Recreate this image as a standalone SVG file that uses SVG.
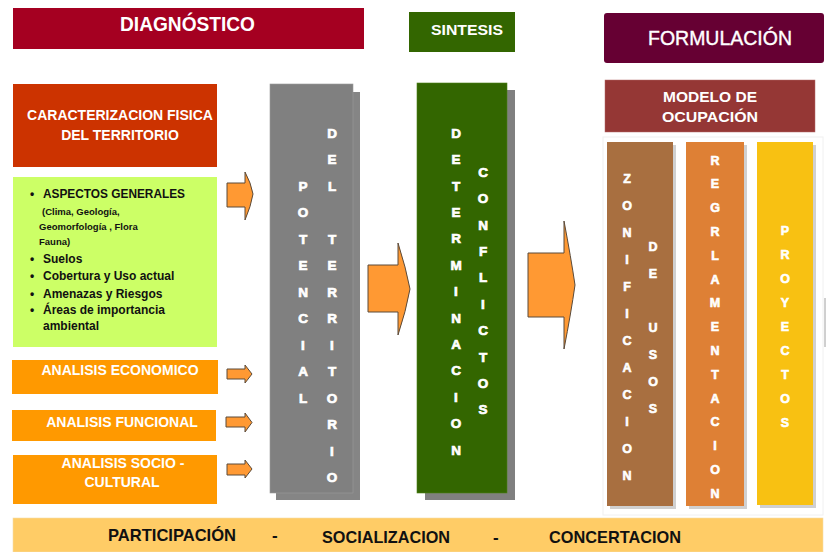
<svg xmlns="http://www.w3.org/2000/svg" width="827" height="552" viewBox="0 0 827 552">
<style>
text{font-family:"Liberation Sans",Arial,sans-serif}
.hw{fill:#fff;font-weight:bold}
.col{fill:#fff;font-weight:bold;font-size:13.5px;text-anchor:middle;stroke:#fff;stroke-width:0.7}
.colsm{fill:#fff;font-weight:bold;font-size:12.5px;text-anchor:middle;stroke:#fff;stroke-width:0.6}
.box{fill:#fff;font-weight:bold;font-size:14px;text-anchor:middle}
.lst{fill:#111;font-weight:bold;font-size:12px}
.lsm{fill:#111;font-weight:bold;font-size:9.5px}
.bot{fill:#111;font-weight:bold;font-size:17px}
.arr{fill:#FF9933;stroke:#5a4a3a;stroke-width:1;stroke-linejoin:round}
</style>

<g id="diagnostico">
<rect x="13" y="8" width="351" height="41" fill="#A50021"/>
<text class="hw" x="120" y="31" font-size="21" textLength="135" lengthAdjust="spacingAndGlyphs">DIAGNÓSTICO</text>
</g>

<g id="sintesis">
<rect x="409" y="12" width="106" height="40" fill="#336600"/>
<text class="hw" x="431" y="35" font-size="15" textLength="72" lengthAdjust="spacingAndGlyphs">SINTESIS</text>
</g>

<g id="formulacion">
<rect x="604" y="13" width="220" height="50" rx="3" fill="#660033"/>
<text x="648" y="45" font-size="21" fill="#fff" stroke="#fff" stroke-width="0.4" textLength="144" lengthAdjust="spacingAndGlyphs">FORMULACIÓN</text>
</g>

<g id="caracterizacion">
<rect x="13" y="84" width="204" height="83" fill="#CC3300"/>
<text class="box" x="120" y="120">CARACTERIZACION FISICA</text>
<text class="box" x="120" y="140">DEL TERRITORIO</text>
</g>

<g id="aspectos">
<rect x="13" y="177" width="204" height="170" fill="#CCFF66"/>
<text class="lst" x="30" y="198">•</text>
<text class="lst" x="43" y="198" textLength="142" lengthAdjust="spacingAndGlyphs">ASPECTOS GENERALES</text>
<text class="lsm" x="42" y="215">(Clima, Geología,</text>
<text class="lsm" x="39" y="230">Geomorfología , Flora</text>
<text class="lsm" x="39" y="245">Fauna)</text>
<text class="lst" x="30" y="263">•</text>
<text class="lst" x="43" y="263">Suelos</text>
<text class="lst" x="30" y="280">•</text>
<text class="lst" x="43" y="280">Cobertura y Uso actual</text>
<text class="lst" x="30" y="298">•</text>
<text class="lst" x="43" y="298">Amenazas y Riesgos</text>
<text class="lst" x="30" y="314">•</text>
<text class="lst" x="43" y="314">Áreas de importancia</text>
<text class="lst" x="43" y="330">ambiental</text>
</g>

<g id="economico">
<rect x="12" y="360" width="206" height="34" fill="#FF9900"/>
<text class="box" x="120" y="375">ANALISIS ECONOMICO</text>
</g>

<g id="funcional">
<rect x="12" y="410" width="204" height="31" fill="#FF9900"/>
<text class="box" x="122" y="427">ANALISIS FUNCIONAL</text>
</g>

<g id="sociocultural">
<rect x="13" y="455" width="204" height="49" fill="#FF9900"/>
<text class="box" x="123" y="468">ANALISIS SOCIO -</text>
<text class="box" x="122" y="487">CULTURAL</text>
</g>

<g id="potencial">
<rect x="276" y="92" width="84" height="408" fill="#858585"/>
<rect x="270" y="84" width="83" height="409" fill="#808080" stroke="#9a9a9a" stroke-width="0.6"/>
<text class="col"><tspan x="303" y="190.8">P</tspan><tspan x="303" y="217.3">O</tspan><tspan x="303" y="243.8">T</tspan><tspan x="303" y="270.3">E</tspan><tspan x="303" y="296.8">N</tspan><tspan x="303" y="323.3">C</tspan><tspan x="303" y="349.8">I</tspan><tspan x="303" y="376.3">A</tspan><tspan x="303" y="402.8">L</tspan></text>
<text class="col"><tspan x="332" y="137.8">D</tspan><tspan x="332" y="164.3">E</tspan><tspan x="332" y="190.8">L</tspan><tspan x="332" y="243.8">T</tspan><tspan x="332" y="270.3">E</tspan><tspan x="332" y="296.8">R</tspan><tspan x="332" y="323.3">R</tspan><tspan x="332" y="349.8">I</tspan><tspan x="332" y="376.3">T</tspan><tspan x="332" y="402.8">O</tspan><tspan x="332" y="429.3">R</tspan><tspan x="332" y="455.8">I</tspan><tspan x="332" y="482.3">O</tspan></text>
</g>

<g id="determinacion">
<rect x="425" y="90" width="90" height="410" fill="#808080"/>
<rect x="417" y="83" width="90" height="410" fill="#336600" stroke="#4d8019" stroke-width="0.6"/>
<text class="col"><tspan x="456" y="137.8">D</tspan><tspan x="456" y="164.2">E</tspan><tspan x="456" y="190.6">T</tspan><tspan x="456" y="217">E</tspan><tspan x="456" y="243.4">R</tspan><tspan x="456" y="269.8">M</tspan><tspan x="456" y="296.2">I</tspan><tspan x="456" y="322.6">N</tspan><tspan x="456" y="349">A</tspan><tspan x="456" y="375.4">C</tspan><tspan x="456" y="401.8">I</tspan><tspan x="456" y="428.2">O</tspan><tspan x="456" y="454.6">N</tspan></text>
<text class="col"><tspan x="483" y="176.8">C</tspan><tspan x="483" y="203.2">O</tspan><tspan x="483" y="229.6">N</tspan><tspan x="483" y="256">F</tspan><tspan x="483" y="282.4">L</tspan><tspan x="483" y="308.8">I</tspan><tspan x="483" y="335.2">C</tspan><tspan x="483" y="361.6">T</tspan><tspan x="483" y="388">O</tspan><tspan x="483" y="414.4">S</tspan></text>
</g>

<g id="modelo">
<rect x="605" y="80" width="210" height="52" fill="#953735" stroke="#b46a68" stroke-width="0.5"/>
<text class="hw" x="663" y="102" font-family="'Open Sans',sans-serif" font-size="14" textLength="94" lengthAdjust="spacingAndGlyphs">MODELO DE</text>
<text class="hw" x="662" y="122" font-family="'Open Sans',sans-serif" font-size="14" textLength="96" lengthAdjust="spacingAndGlyphs">OCUPACIÓN</text>
</g>

<g id="panel">
<rect x="603" y="137" width="220" height="378" fill="#ffffff" stroke="#f0f0f0" stroke-width="1"/>
<line x1="825" y1="298" x2="825" y2="347" stroke="#a0a0a0" stroke-width="1"/>
</g>

<g id="zonificacion">
<rect x="610" y="145" width="66" height="364" fill="#d0d0d0"/>
<rect x="607" y="142" width="66" height="364" fill="#A86F40"/>
<text class="colsm"><tspan x="627" y="182.5">Z</tspan><tspan x="627" y="209.5">O</tspan><tspan x="627" y="236.5">N</tspan><tspan x="627" y="263.5">I</tspan><tspan x="627" y="290.5">F</tspan><tspan x="627" y="317.5">I</tspan><tspan x="627" y="344.5">C</tspan><tspan x="627" y="371.5">A</tspan><tspan x="627" y="398.5">C</tspan><tspan x="627" y="425.5">I</tspan><tspan x="627" y="452.5">O</tspan><tspan x="627" y="479.5">N</tspan></text>
<text class="colsm"><tspan x="653" y="250.5">D</tspan><tspan x="653" y="277.5">E</tspan><tspan x="653" y="331.5">U</tspan><tspan x="653" y="358.5">S</tspan><tspan x="653" y="385.5">O</tspan><tspan x="653" y="412.5">S</tspan></text>
</g>

<g id="reglamentacion">
<rect x="689" y="145" width="58" height="364" fill="#d0d0d0"/>
<rect x="686" y="142" width="58" height="364" fill="#DE8035"/>
<text class="colsm"><tspan x="715" y="164.5">R</tspan><tspan x="715" y="188.3">E</tspan><tspan x="715" y="212.1">G</tspan><tspan x="715" y="235.9">R</tspan><tspan x="715" y="259.7">L</tspan><tspan x="715" y="283.5">A</tspan><tspan x="715" y="307.3">M</tspan><tspan x="715" y="331.1">E</tspan><tspan x="715" y="354.9">N</tspan><tspan x="715" y="378.7">T</tspan><tspan x="715" y="402.5">A</tspan><tspan x="715" y="426.3">C</tspan><tspan x="715" y="450.1">I</tspan><tspan x="715" y="473.9">O</tspan><tspan x="715" y="497.7">N</tspan></text>
</g>

<g id="proyectos">
<rect x="760" y="145" width="56" height="363" fill="#d0d0d0"/>
<rect x="757" y="142" width="56" height="363" fill="#F8C112"/>
<text class="colsm"><tspan x="785" y="234.5">P</tspan><tspan x="785" y="258.6">R</tspan><tspan x="785" y="282.7">O</tspan><tspan x="785" y="306.8">Y</tspan><tspan x="785" y="330.9">E</tspan><tspan x="785" y="355">C</tspan><tspan x="785" y="379.1">T</tspan><tspan x="785" y="403.2">O</tspan><tspan x="785" y="427.3">S</tspan></text>
</g>

<g id="participacion">
<rect x="13" y="518" width="810" height="34" fill="#FFCC66" stroke="#f3dca8" stroke-width="0.6"/>
<text class="bot" x="108" y="541" textLength="128" lengthAdjust="spacingAndGlyphs">PARTICIPACIÓN</text>
<text class="bot" x="272" y="541">-</text>
<text class="bot" x="322" y="543" textLength="128" lengthAdjust="spacingAndGlyphs">SOCIALIZACION</text>
<text class="bot" x="493" y="543">-</text>
<text class="bot" x="549" y="543" textLength="132" lengthAdjust="spacingAndGlyphs">CONCERTACION</text>
</g>

<g id="connectors">
<path class="arr" d="M227,183 H245 V172 Q251,183 253,194 Q251,206 245,220 V207 H227 Z"/>
<path class="arr" d="M227,369 H245 V365 L252,374 L245,383 V379 H227 Z"/>
<path class="arr" d="M226,417 H245 V413 L252,422.5 L245,432 V427 H226 Z"/>
<path class="arr" d="M227,464 H245 V460 L252,469 L245,478 V475 H227 Z"/>
<path class="arr" d="M368,265 H398 V243 Q406,268 410,289 Q406,311 398,335 V312 H368 Z"/>
<path class="arr" d="M528,253 H564 V221 Q571,258 575,285 Q571,313 564,349 V317 H528 Z"/>
</g>
</svg>
